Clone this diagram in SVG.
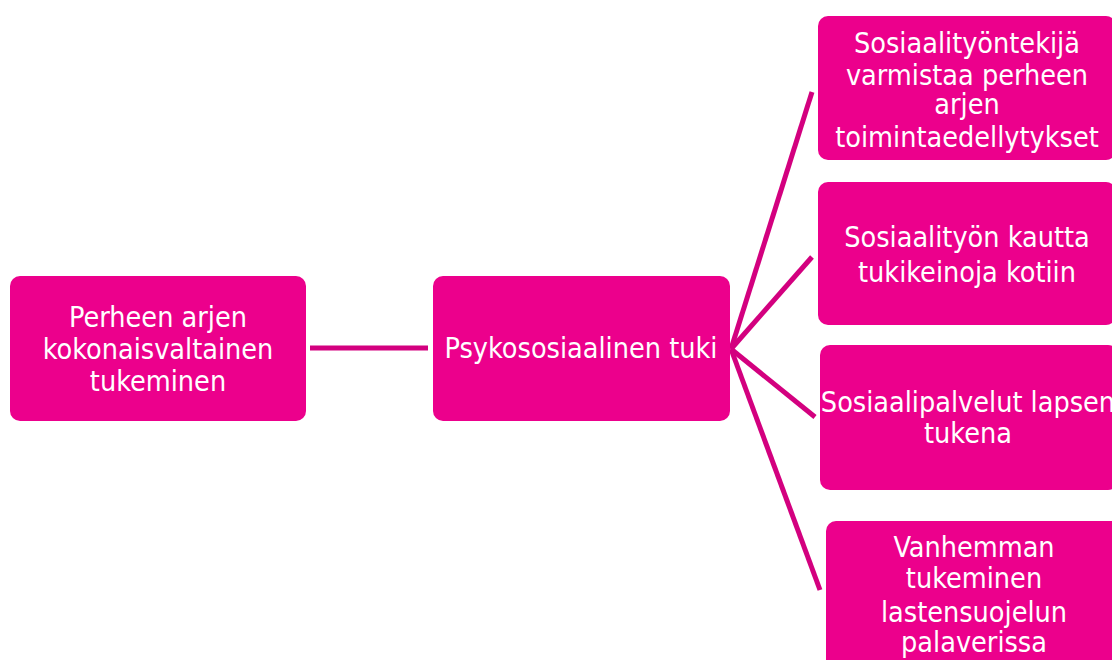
<svg xmlns="http://www.w3.org/2000/svg" width="1112" height="660" viewBox="0 0 1112 660">
<style>
.node{fill:#EC008C;}
.t{font-family:"DejaVu Sans Condensed","DejaVu Sans",sans-serif;font-size:28.5px;fill:#FFFFFF;text-anchor:middle;}
.c{stroke:#D3007F;stroke-width:5;fill:none;}
</style>
<rect width="1112" height="660" fill="#FFFFFF"/>
<g id="connectors">
<line class="c" x1="310" y1="348" x2="428" y2="348"/>
<line class="c" x1="731" y1="349" x2="812" y2="92"/>
<line class="c" x1="731" y1="349" x2="812" y2="257"/>
<line class="c" x1="731" y1="349" x2="815" y2="417"/>
<line class="c" x1="731" y1="349" x2="820" y2="590"/>
</g>
<g id="n1">
<rect class="node" x="10" y="276" width="296" height="145" rx="10"/>
<text class="t" x="158" y="327">Perheen arjen</text>
<text class="t" x="158" y="359">kokonaisvaltainen</text>
<text class="t" x="158" y="391">tukeminen</text>
</g>
<g id="n2">
<rect class="node" x="433" y="276" width="297" height="145" rx="10"/>
<text class="t" x="581" y="358">Psykososiaalinen tuki</text>
</g>
<g id="n3">
<rect class="node" x="818" y="16" width="298" height="144" rx="10"/>
<text class="t" x="967" y="53">Sosiaalityöntekijä</text>
<text class="t" x="967" y="85">varmistaa perheen</text>
<text class="t" x="967" y="114">arjen</text>
<text class="t" x="967" y="147">toimintaedellytykset</text>
</g>
<g id="n4">
<rect class="node" x="818" y="182" width="298" height="143" rx="10"/>
<text class="t" x="967" y="247">Sosiaalityön kautta</text>
<text class="t" x="967" y="282">tukikeinoja kotiin</text>
</g>
<g id="n5">
<rect class="node" x="820" y="345" width="298" height="145" rx="10"/>
<text class="t" x="968" y="412">Sosiaalipalvelut lapsen</text>
<text class="t" x="968" y="443">tukena</text>
</g>
<g id="n6">
<rect class="node" x="826" y="521" width="298" height="150" rx="10"/>
<text class="t" x="974" y="557">Vanhemman</text>
<text class="t" x="974" y="588">tukeminen</text>
<text class="t" x="974" y="622">lastensuojelun</text>
<text class="t" x="974" y="652">palaverissa</text>
</g>
</svg>
